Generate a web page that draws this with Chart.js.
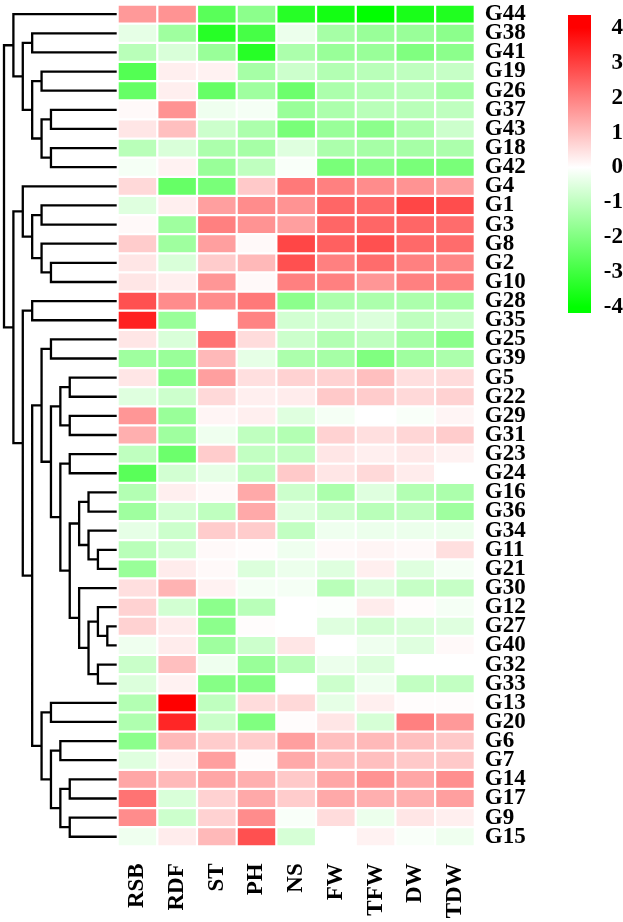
<!DOCTYPE html>
<html>
<head>
<meta charset="utf-8">
<title>Heatmap</title>
<script src="https://cdn.jsdelivr.net/npm/chart.js@4.4.1/dist/chart.umd.min.js"></script>
<style>
  html, body { margin: 0; padding: 0; background: #fff; }
  #wrap { position: relative; width: 623px; height: 922px; }
  #heat { position: absolute; left: 0; top: 0; }
  #bar { position: absolute; left: 540px; top: 0; }
</style>
</head>
<body>
<div id="wrap">
  <canvas id="heat" width="540" height="922"></canvas>
  <canvas id="bar" width="83" height="330"></canvas>
</div>
<script>
// rows in dendrogram order (top to bottom)
var ROWS = ['G44','G38','G41','G19','G26','G37','G43','G18','G42','G4',
            'G1','G3','G8','G2','G10','G28','G35','G25','G39','G5',
            'G22','G29','G31','G23','G24','G16','G36','G34','G11','G21',
            'G30','G12','G27','G40','G32','G33','G13','G20','G6','G7',
            'G14','G17','G9','G15'];
var COLS = ['RSB','RDF','ST','PH','NS','FW','TFW','DW','TDW'];

// standardized values, one array per trait, in ROWS order
var RSB = [1.6,-0.4,-1.1,-2.7,-2.4,0.1,0.4,-1.1,-0.15,0.6,
           -0.5,0.1,0.8,0.4,0.4,2.75,3.5,0.4,-1.5,0.4,
           -0.5,1.65,1.25,-1.0,-2.6,-1.2,-1.5,-0.4,-1.1,-1.6,
           0.5,0.7,0.7,-0.25,-0.85,-0.55,-1.2,-1.25,-1.8,-0.5,
           1.4,2.2,1.8,-0.25];
var RDF = [1.7,-1.5,-0.6,0.25,0.25,1.7,1.0,-0.6,0.2,-2.4,
           0.25,-1.5,-1.5,-0.6,0.25,1.8,-1.6,-0.6,-1.6,-1.8,
           -0.8,-1.6,-1.5,-2.3,-0.7,0.25,-0.7,-0.8,-0.7,0.3,
           1.2,-0.7,0.3,0.3,1.0,0.2,4.0,3.4,1.1,0.2,
           1.1,-0.6,-0.8,0.3];
var ST  = [-2.6,-3.4,-1.6,0.2,-2.4,-0.25,-0.8,-1.3,-1.6,-2.1,
           1.5,2.0,1.5,0.8,1.65,1.8,0,2.2,1.1,1.5,
           0.6,0.15,-0.25,0.8,-0.4,0.1,-1.0,0.8,0.1,0.1,
           0.2,-1.8,-1.8,-1.5,-0.25,-1.9,-1.0,-0.85,0.8,1.5,
           1.4,0.7,0.7,1.1];
var PH  = [-1.8,-2.9,-3.4,-1.4,-1.5,-0.15,-1.3,-1.4,-1.0,0.85,
           1.8,1.7,0.1,1.1,0.1,2.1,1.95,0.55,-0.4,0.5,
           0.25,0.25,-1.0,-0.95,-0.95,1.35,1.35,0.8,0.05,-0.55,
           -0.15,-1.1,0.05,-0.8,-1.6,-1.9,0.55,-2.0,0.8,0.05,
           1.25,1.35,1.8,2.75];
var NS  = [-3.4,-0.3,-1.3,-0.8,-2.3,-1.6,-2.1,-0.5,-0.1,2.1,
           1.7,1.5,2.9,2.75,2.0,-1.8,-0.7,-0.8,-1.3,0.7,
           0.3,-0.5,-1.2,-0.95,0.85,-0.8,-0.5,-0.95,-0.25,-0.3,
           -0.15,0,0,0.4,-1.1,0,0.6,0.05,1.5,1.35,
           0.85,0.8,-0.1,-0.65];
var FW  = [-3.7,-1.4,-1.6,-1.2,-1.3,-1.3,-1.6,-1.3,-2.1,2.0,
           2.4,2.4,2.5,2.0,2.0,-1.3,-0.7,-1.2,-1.4,0.7,
           0.85,-0.15,0.7,0.4,0.4,-1.3,-0.8,-0.25,0.1,-0.5,
           -1.1,-0.05,-0.5,0,-0.3,-0.8,-0.4,0.4,1.0,1.0,
           1.4,1.35,0.55,0];
var TFW = [-4.0,-1.6,-1.6,-1.1,-1.2,-1.1,-1.8,-1.4,-1.9,1.8,
           2.35,2.4,2.75,2.3,1.65,-1.3,-0.55,-1.0,-2.0,1.0,
           0.8,0,0.5,0.25,0.6,-0.5,-1.1,-0.3,0.15,0.25,
           -0.6,0.3,-0.7,-0.25,-0.55,-0.25,0.25,-0.65,1.1,1.0,
           1.7,1.25,-0.3,0.2];
var DW  = [-3.6,-1.6,-2.0,-1.0,-1.1,-1.1,-1.3,-1.4,-2.1,1.7,
           2.9,2.4,2.35,2.0,2.0,-1.3,-1.0,-1.4,-1.5,0.5,
           0.6,-0.1,0.65,0.35,0.3,-1.2,-1.0,-0.3,0.1,-0.5,
           -0.9,0.05,-0.6,-0.5,0,-0.95,0.05,2.0,1.0,0.85,
           1.4,1.25,0.4,-0.1];
var TDW = [-3.5,-1.8,-1.8,-0.9,-1.4,-1.0,-0.8,-1.3,-2.1,1.5,
           2.8,2.3,2.3,1.9,2.0,-1.4,-0.85,-1.8,-1.3,0.55,
           0.7,0.15,0.8,0.2,0,-1.3,-1.5,-0.3,0.5,-0.15,
           -0.9,-0.15,-0.5,0.1,0,-0.95,0.05,1.6,0.85,0.85,
           1.75,1.5,0.25,-0.25];

var SCALE_TICKS = [4,3,2,1,0,-1,-2,-3,-4];

// row clustering: [merge level, left, right]; level 0 = root, leaves sit at 12
var LEAF_LEVEL = 12;
var TREE = [0,
  [1, 'G44',
    [2, [3,'G38','G41'],
        [3, [4,'G19','G26'], [4, [5,'G37','G43'], [5,'G18','G42']]]]],
  [1,
    [2, 'G4', [3, [4,'G1','G3'], [4,'G8',[5,'G2','G10']]]],
    [2, [3,'G28','G35'],
        [3,
          [4, [5,'G25','G39'],
              [5, [6, [7,'G5','G22'], [7,'G29','G31']],
                  [6, [7,'G23','G24'],
                      [7, [8, [9,'G16','G36'], [9,'G34',[10,'G11','G21']]],
                          [8, 'G30', [9, [10,'G12',[11,'G27','G40']], [10,'G32','G33']]]]]]],
          [4, [5,'G13','G20'],
              [5, [6,'G6','G7'], [6, [7,'G14','G17'], [7,'G9','G15']]]]]]]];

function heatColor(v) {
  var t = Math.min(Math.abs(v) / 4, 1);
  var c = Math.round(255 * (1 - t));
  return v >= 0 ? 'rgb(255,' + c + ',' + c + ')' : 'rgb(' + c + ',255,' + c + ')';
}

// walk the tree, one elbow polyline per merge, null point = pen up
function walk(node, pts) {
  if (typeof node === 'string') return { y: ROWS.indexOf(node), h: LEAF_LEVEL };
  var a = walk(node[1], pts), b = walk(node[2], pts);
  pts.push({x: a.h, y: a.y}, {x: node[0], y: a.y}, {x: node[0], y: b.y}, {x: b.h, y: b.y}, {x: null, y: null});
  return { y: (a.y + b.y) / 2, h: node[0] };
}
var treePts = [];
walk(TREE, treePts);

var FONT = { family: '"Liberation Serif", "Times New Roman", serif', size: 23, weight: 'bold' };
var colData = [RSB, RDF, ST, PH, NS, FW, TFW, DW, TDW];

// one floating-bar dataset per trait column: cell c spans [c, c+1] on x
var datasets = COLS.map(function(name, c) {
  return {
    type: 'bar', label: name, indexAxis: 'y', grouped: false, xAxisID: 'x', yAxisID: 'y',
    data: ROWS.map(function(r, i) { return {x: [c, c + 1], y: i}; }),
    backgroundColor: colData[c].map(heatColor),
    borderColor: '#fff', borderWidth: 1.45, borderSkipped: false,
    barPercentage: 1, categoryPercentage: 1
  };
});
datasets.push({
  type: 'scatter', label: 'tree', showLine: true, data: treePts,
  xAxisID: 'xd', yAxisID: 'yd', borderColor: '#000', backgroundColor: '#000',
  borderWidth: 2.3, pointRadius: 0, spanGaps: false, clip: false
});

new Chart(document.getElementById('heat'), {
  type: 'scatter',
  data: { datasets: datasets },
  options: {
    responsive: false, animation: false,
    layout: { padding: { top: 4.6, left: 0, right: 0, bottom: 0 } },
    plugins: { legend: { display: false }, tooltip: { enabled: false } },
    scales: {
      x: {
        type: 'linear', axis: 'x', position: 'bottom', offset: false, min: -2.963, max: 9,
        grid: { display: false, drawTicks: false }, border: { display: false },
        afterBuildTicks: function(s) { s.ticks = COLS.map(function(_, i) { return {value: i + 0.5}; }); },
        ticks: { autoSkip: false, minRotation: 90, maxRotation: 90, padding: 17, color: '#000', font: FONT,
                 callback: function(v, i) { return COLS[i]; } },
        afterFit: function(s) { s.height = 75.7; s.paddingLeft = 0; s.paddingRight = 0; }
      },
      xd: { type: 'linear', axis: 'x', position: 'bottom', display: false, offset: false, min: -0.426, max: 50.13 },
      yd: { type: 'linear', axis: 'y', position: 'left', display: false, offset: false, reverse: true, min: -0.5, max: 43.5 },
      y: {
        type: 'linear', axis: 'y', position: 'right', reverse: true, offset: false, min: -0.5, max: 43.5,
        grid: { display: false, drawTicks: false }, border: { display: false },
        afterBuildTicks: function(s) { s.ticks = ROWS.map(function(_, i) { return {value: i}; }); },
        ticks: { autoSkip: false, padding: 10, color: '#000', font: FONT,
                 callback: function(v, i) { return ROWS[i]; } },
        afterFit: function(s) { s.width = 65.2; s.paddingTop = 0; s.paddingBottom = 0; }
      }
    }
  }
});

// colour key
new Chart(document.getElementById('bar'), {
  type: 'bar',
  data: {
    labels: [''],
    datasets: [{
      data: [[-4.17, 4.37]],
      backgroundColor: function(ctx) {
        var ch = ctx.chart;
        if (!ch.chartArea) return null;
        var ys = ch.scales.y;
        var g = ch.ctx.createLinearGradient(0, ys.getPixelForValue(4), 0, ys.getPixelForValue(-4));
        SCALE_TICKS.forEach(function(v, i) { g.addColorStop(i / (SCALE_TICKS.length - 1), heatColor(v)); });
        return g;
      },
      borderWidth: 0, barPercentage: 1, categoryPercentage: 1
    }]
  },
  options: {
    responsive: false, animation: false,
    layout: { padding: { top: 15, bottom: 17, left: 28, right: 0 } },
    plugins: { legend: { display: false }, tooltip: { enabled: false } },
    scales: {
      x: { display: false },
      y: {
        position: 'right', min: -4.17, max: 4.37,
        grid: { display: false, drawTicks: false }, border: { display: false },
        afterBuildTicks: function(s) { s.ticks = SCALE_TICKS.map(function(v) { return {value: v}; }); },
        ticks: { padding: 10, crossAlign: 'far', color: '#000', font: FONT },
        afterFit: function(s) { s.width = 32; s.paddingTop = 0; s.paddingBottom = 0; }
      }
    }
  }
});
</script>
</body>
</html>
